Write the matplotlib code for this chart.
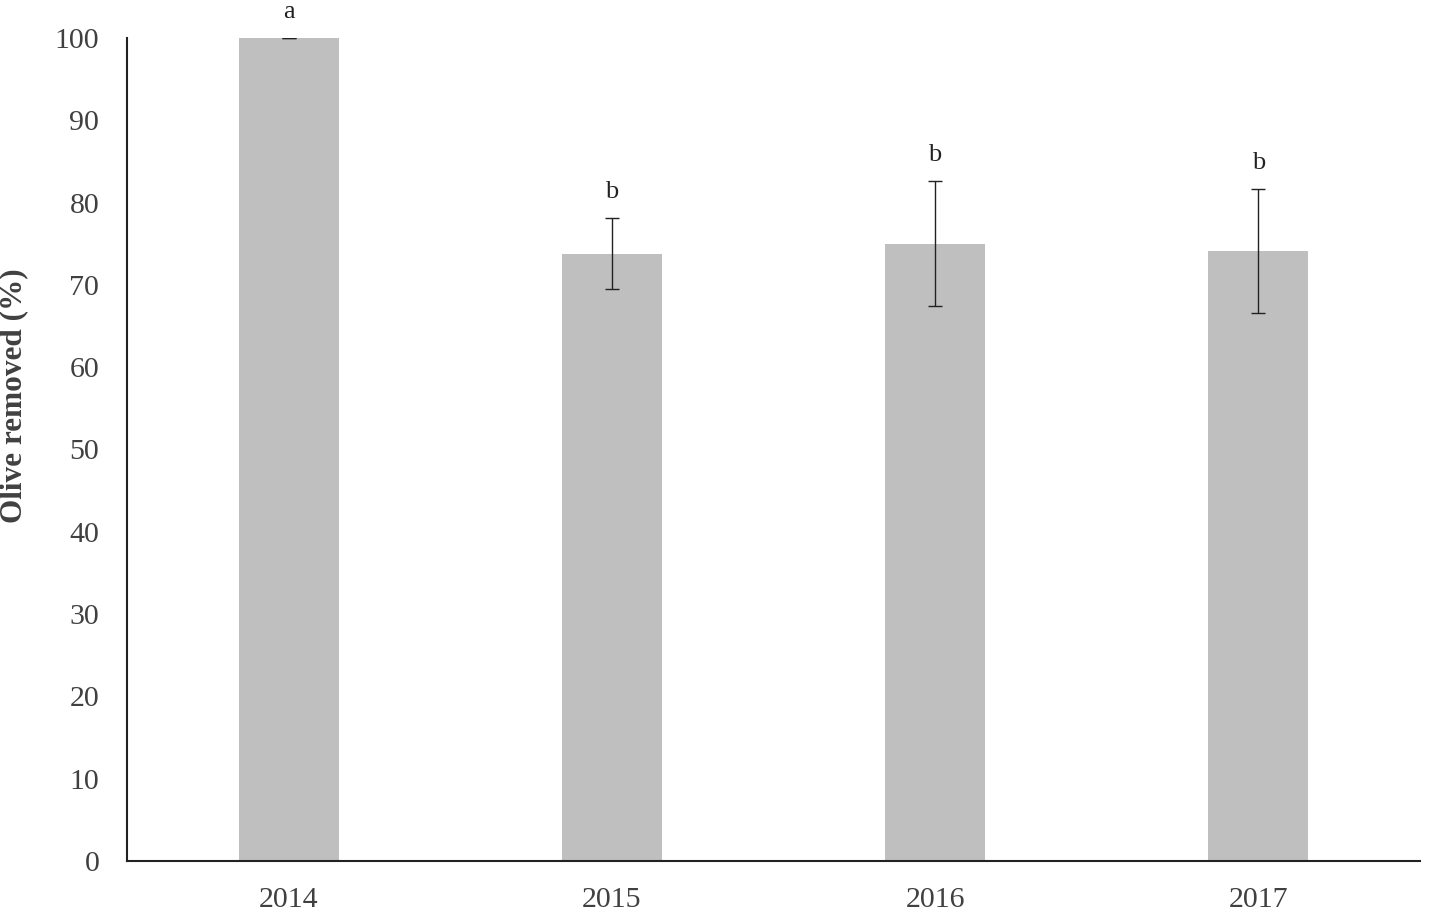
import matplotlib
matplotlib.use("Agg")
import matplotlib.pyplot as plt
import numpy as np

years = ["2014", "2015", "2016", "2017"]
removed = [100.0, 73.8, 75.0, 74.1]
err = [0.0, 4.3, 7.6, 7.5]
letters = ["a", "b", "b", "b"]

plt.rcParams['font.family'] = ['Liberation Serif', 'DejaVu Serif']

fig = plt.figure(figsize=(14.29, 9.17), dpi=100)
ax = fig.add_axes([0.0889, 0.0611, 0.9048, 0.8975])

x = np.arange(len(years))
ax.bar(x, removed, width=0.31, color='#bfbfbf', zorder=1)
ax.errorbar(x, removed, yerr=err, fmt='none', ecolor='#222222',
            elinewidth=1.0, capsize=5, capthick=1.0, zorder=2)

for xi, v, e, lab in zip(x, removed, err, letters):
    ax.annotate(lab, (xi, v + e), xytext=(0, 11), textcoords='offset points',
                ha='center', va='bottom', fontsize=19, color='#222222')

ax.set_xlim(-0.5, 3.5)
ax.set_ylim(0, 100)
ax.set_yticks(range(0, 101, 10))
ax.set_xticks(x)
ax.set_xticklabels(years)
ax.tick_params(length=0, labelsize=21.5, colors='#404040')
ax.tick_params(axis='x', pad=19)
ax.tick_params(axis='y', pad=20)

ax.spines['top'].set_visible(False)
ax.spines['right'].set_visible(False)
ax.spines['left'].set_linewidth(1.5)
ax.spines['bottom'].set_linewidth(1.5)
ax.spines['left'].set_color('#222222')
ax.spines['bottom'].set_color('#222222')

ax.set_ylabel("Olive removed (%)", fontsize=22.5, fontweight='bold', color='#404040')
ax.yaxis.set_label_coords(-0.0765, 0.565)

fig.savefig("out.png", dpi=100)
